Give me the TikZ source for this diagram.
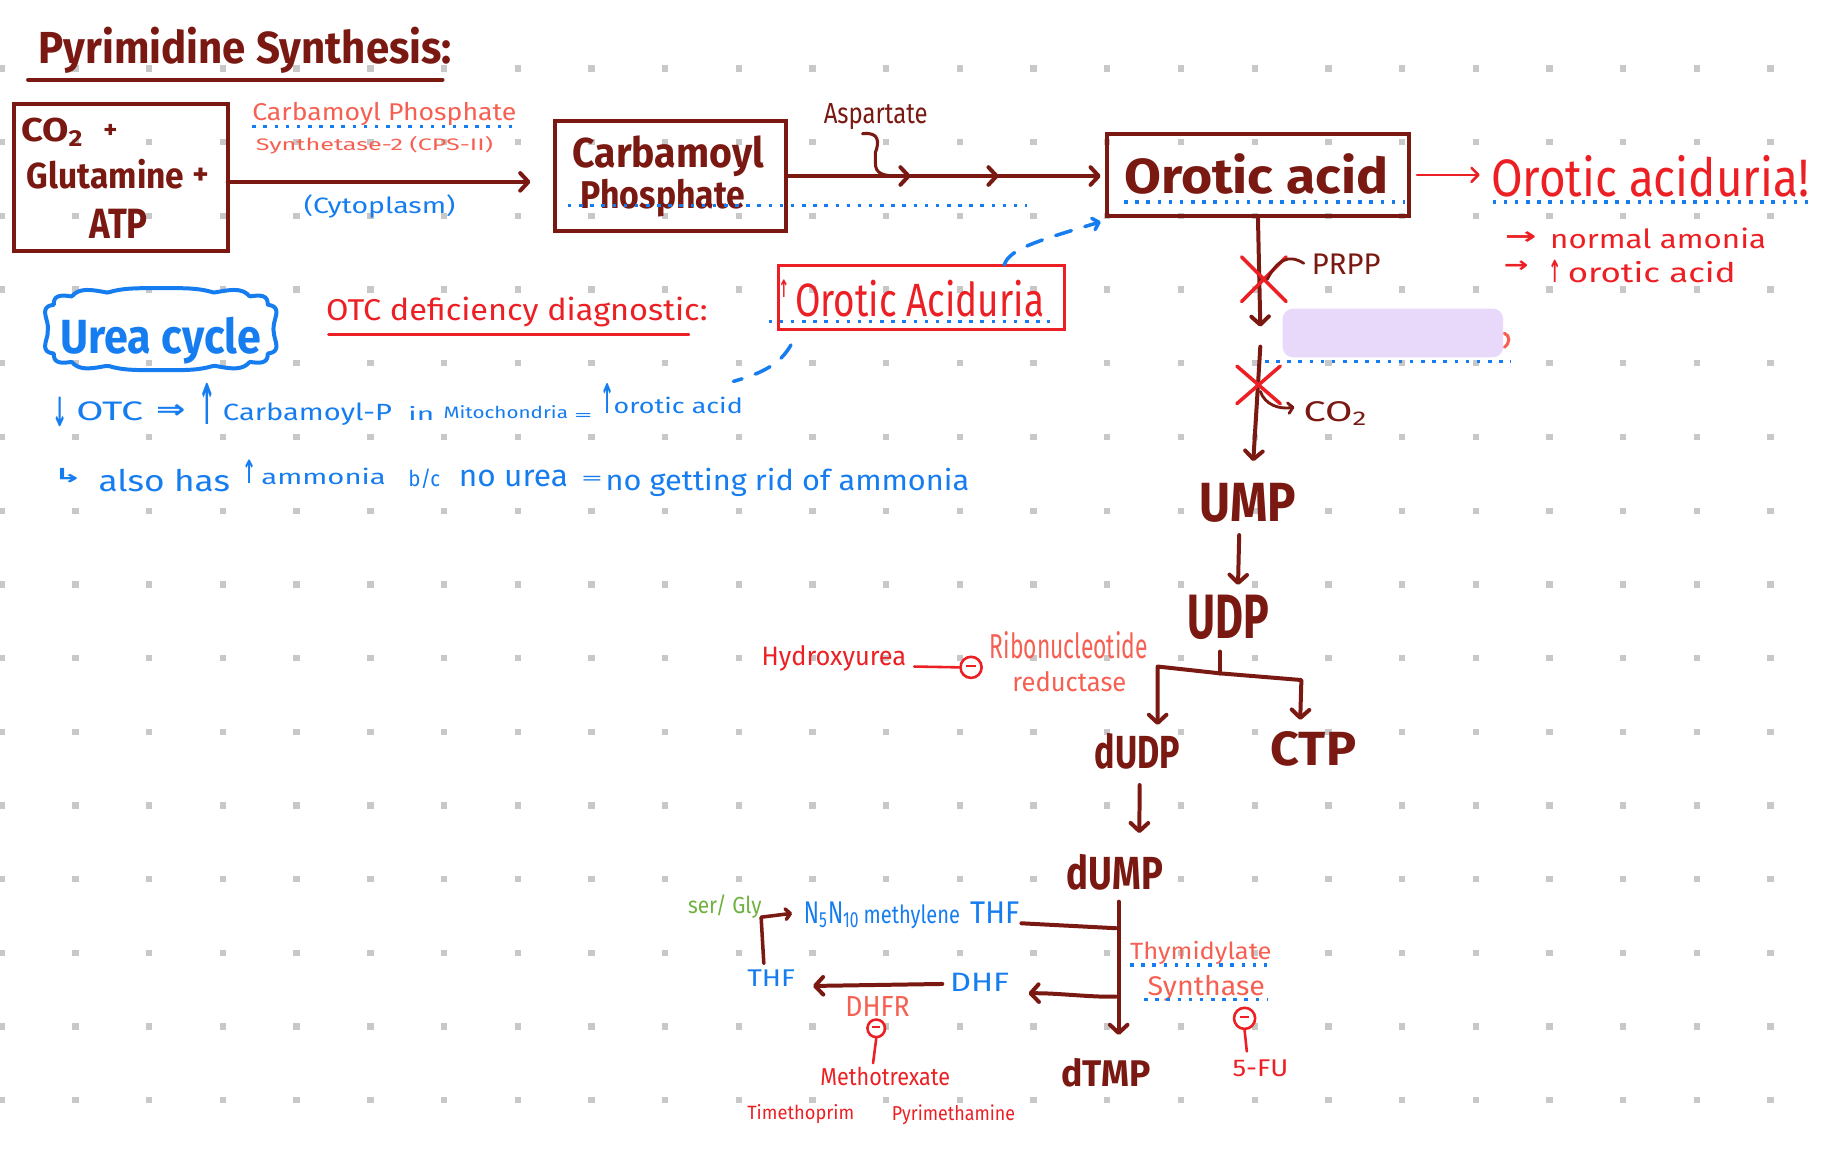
\documentclass[tikz,border=0pt]{standalone}
\usepackage{fontspec}
\setmainfont{Fira Sans}
\newfontfamily\symf{DejaVu Sans}
\usepackage{graphicx}
\usetikzlibrary{arrows.meta}
\definecolor{dred}{RGB}{122,24,18}
\definecolor{hred}{RGB}{236,32,36}
\definecolor{coral}{RGB}{246,96,82}
\definecolor{hblue}{RGB}{22,125,240}
\definecolor{hgreen}{RGB}{112,178,64}
\definecolor{lav}{RGB}{232,216,250}
\definecolor{dotg}{RGB}{200,200,200}
\newcommand\tx[3]{\resizebox{#1pt}{#2pt}{#3}}
\begin{document}
\begin{tikzpicture}[x=1pt,y=-1pt,
  lbl/.style={inner sep=0pt, outer sep=0pt, anchor=base west},
  sy/.style={inner sep=0pt, outer sep=0pt, anchor=center, font=\symf\bfseries},
  box/.style={draw=dred, line width=3.4pt, inner sep=0pt},
  flow/.style={draw=dred, line width=3.4pt, line cap=round, line join=round},
  tipd/.style={-{Straight Barb[length=7pt,width=15pt,round]}},
  tips/.style={-{Straight Barb[length=4pt,width=9pt,round]}},
  thinr/.style={draw=hred, line width=2.2pt, line cap=round},
  dots/.style={draw=hblue, line width=3pt, dash pattern=on 3pt off 6.5pt},
  inh/.style={circle, draw=hred, line width=2.2pt, inner sep=0pt},
  ]
\fill[white] (0,0) rectangle (1568,995.3);
\useasboundingbox (0,0) rectangle (1568,995.3);
% grid dots
\foreach \i in {0,...,24}{\foreach \j in {0,...,14}{
  \fill[dotg] ({1.6+62.8*\i-2.7},{58.4+62.8*\j-2.7}) rectangle ++(5.4,5.4);}}
% title
\node[lbl,text=dred] (title) at (33,54) {\bfseries\tx{352}{31}{Pyrimidine Synthesis:}};
\draw[dred, line width=3.6pt, line cap=round] (24,68) -- (377,68);
% CO2 box
\node[box, minimum width=182pt, minimum height=125pt] (co2box) at (103,151.5) {};
\node[lbl,text=dred] (co2) at (18,121) {\bfseries\tx{54}{20}{CO\textsubscript{2}}};
\node[lbl,text=dred] (plus1) at (88,118) {\bfseries\tx{12}{12}{+}};
\node[lbl,text=dred] (glut) at (23,161) {\bfseries\tx{134}{25}{Glutamine}};
\node[lbl,text=dred] (plus2) at (164,157) {\bfseries\tx{14}{14}{+}};
\node[lbl,text=dred] (atp) at (76,203) {\bfseries\tx{50}{25}{ATP}};
\coordinate (a1s) at (194,155);
\coordinate (a1e) at (452,155);
\draw[flow,tipd] (a1s) -- (a1e);
\node[lbl,text=coral] (cpslbl) at (215,102.5) {\tx{225}{15.5}{Carbamoyl Phosphate}};
\draw[dots] (215,108) -- (440,108);
\node[lbl,text=coral] (cps2) at (218,128) {\tx{202}{12}{Synthetase-2 (CPS-II)}};
\node[lbl,text=hblue] (cyto) at (259,182) {\tx{129}{16}{(Cytoplasm)}};
% Carbamoyl phosphate box
\node[box, minimum width=197pt, minimum height=94pt] (cpbox) at (571.5,150) {};
\node[lbl,text=dred] (cp1) at (488,143) {\bfseries\tx{163}{27}{Carbamoyl}};
\node[lbl,text=dred] (cp2) at (495,177.5) {\bfseries\tx{140}{25}{Phosphate}};
\draw[dots] (484,175) -- (875,175);
\coordinate (m1) at (776,150);
\coordinate (m2) at (851,150);
\coordinate (m3) at (938,150);
\draw[flow,tipd] (cpbox.east) -- (m1);
\draw[flow,tipd] (m1) -- (m2);
\draw[flow,tipd] (m2) -- (m3);
\node[lbl,text=dred] (asp) at (702,105) {\tx{88.5}{17}{Aspartate}};
\coordinate (aspq) at (735,114);
\coordinate (aspj) at (766,150);
\draw[flow, line width=2.6pt] (aspq) .. controls (750,112) and (749,122) .. (746,130) -- (746,139) .. controls (746,148) and (752,150) .. (aspj);
% Orotic acid box
\node[box, minimum width=258pt, minimum height=70pt] (orbox) at (1072,149) {};
\node[lbl,text=dred] (ortxt) at (958,164.7) {\bfseries\tx{225}{34}{Orotic acid}};
\draw[dots] (958,172) -- (1197,172);
\coordinate (ra1) at (1207.5,149);
\coordinate (ra2) at (1261,149);
\draw[thinr, -{Straight Barb[length=6pt,width=12pt,round]}] (ra1) -- (ra2);
\node[lbl,text=hred] (oaci) at (1270.6,167.6) {\tx{271}{35}{Orotic aciduria!}};
\draw[dots] (1272,172) -- (1543,172);
\node[sy,text=hred] (ar1) at (1296,203) {\tx{27}{11}{→}};
\node[lbl,text=hred] (norm) at (1321,211.5) {\tx{184}{17.5}{normal amonia}};
\node[sy,text=hred] (ar2) at (1292,227) {\tx{21}{10}{→}};
\node[sy,text=hred] (up1) at (1325,231) {\tx{11}{19}{↑}};
\node[lbl,text=hred] (oa2) at (1336,241) {\tx{143}{18}{orotic acid}};
% down from orotic acid
\coordinate (d1e) at (1074,278.4);
\draw[flow,tipd] (orbox.south) -- (d1e);
\draw[hred, line width=3pt, line cap=round] (1058,219) -- (1096,257) (1058,257) -- (1096,219);
\node[lbl,text=dred] (prpp) at (1118,233.5) {\tx{58.5}{17.5}{PRPP}};
\coordinate (prh) at (1111,224.4);
\coordinate (prj) at (1080,238);
\draw[flow, line width=2.4pt] (prh) .. controls (1098,216) and (1088,222) .. (prj);
\node[fill=lav, rounded corners=9pt, minimum width=188pt, minimum height=41.5pt, inner sep=0pt] (hide) at (1187,283.75) {};
\draw[coral, line width=2.6pt, line cap=round] (1282,284) .. controls (1287,286) and (1287,292) .. (1282,296);
\draw[dots] (1078,308) -- (1288,308);
\coordinate (d2s) at (1074,295.4);
\coordinate (d2e) at (1068,393);
\draw[flow,tipd] (d2s) -- (d2e);
\draw[hred, line width=3pt, line cap=round] (1054,312) -- (1091,344) (1054,344) -- (1091,312);
\coordinate (coh) at (1074,333.5);
\coordinate (coe) at (1103,347);
\draw[flow, line width=2.4pt, tips] (coh) .. controls (1078,345) and (1090,349) .. (coe);
\node[lbl,text=dred] (co2b) at (1111,359) {\tx{55}{17}{CO\textsubscript{2}}};
% UMP / UDP
\node[lbl,text=dred] (ump) at (1022,444.5) {\bfseries\tx{82.5}{32.6}{UMP}};
\coordinate (u1) at (1056,456);
\coordinate (u2) at (1055,498.5);
\draw[flow,tipd] (u1) -- (u2);
\node[lbl,text=dred] (udp) at (1012,544) {\bfseries\tx{69.5}{37}{UDP}};
\coordinate (br0) at (1039.6,555.3);
\coordinate (brm) at (1039.6,573.8);
\coordinate (brl) at (986.5,568);
\coordinate (brr) at (1109,579.5);
\coordinate (brle) at (986.5,617.8);
\coordinate (brre) at (1108,613.5);
\draw[flow] (br0) -- (brm);
\draw[flow,tipd] (brm) -- (brl) -- (brle);
\draw[flow,tipd] (brm) -- (brr) -- (brre);
\node[lbl,text=dred] (dudp) at (933,654.7) {\bfseries\tx{72.6}{30}{dUDP}};
\node[lbl,text=dred] (ctp) at (1082.7,652) {\bfseries\tx{73}{29}{CTP}};
\coordinate (du1) at (971.2,669);
\coordinate (du2) at (970.9,710);
\draw[flow,tipd] (du1) -- (du2);
\node[lbl,text=dred] (dump) at (909,758.4) {\bfseries\tx{82}{30}{dUMP}};
% ribonucleotide reductase
\node[lbl,text=coral] (rr1) at (843.6,561) {\tx{134.4}{23}{Ribonucleotide}};
\node[lbl,text=coral] (rr2) at (862.8,589.4) {\tx{97}{17}{reductase}};
\node[lbl,text=hred] (hu) at (649,566.7) {\tx{123.3}{17}{Hydroxyurea}};
\node[inh, minimum size=18pt] (inh1) at (827.5,568.7) {};
\draw[hred, line width=2.2pt] ([xshift=-4pt,yshift=1pt]inh1.center) -- ([xshift=4pt,yshift=1pt]inh1.center);
\coordinate (hue) at (779,568);
\draw[thinr] (hue) -- (inh1.west);
% dUMP -> dTMP
\coordinate (v0) at (953.3,768.4);
\coordinate (v1) at (953.3,882);
\draw[flow,tipd] (v0) -- (v1);
\coordinate (nj) at (870.4,786.8);
\coordinate (nv) at (951,791);
\draw[flow] (nj) -- (nv);
\coordinate (dv) at (951,849.3);
\coordinate (de) at (876.5,846.5);
\draw[flow,tipd] (dv) .. controls (930,850) and (900,846) .. (de);
\node[lbl,text=hblue] (n5) at (685,786.8) {\tx{47.7}{18.4}{N\textsubscript{5}N\textsubscript{10}}};
\node[lbl,text=hblue] (meth) at (736,786.8) {\tx{82}{16}{methylene}};
\node[lbl,text=hblue] (thf1) at (826.8,786.8) {\tx{41.8}{18.4}{THF}};
\node[lbl,text=hgreen] (sg) at (586.3,778.3) {\tx{62.7}{16}{ser/ Gly}};
\coordinate (e0) at (650.9,821);
\coordinate (e1) at (648.6,781.6);
\coordinate (e2) at (675,778.3);
\draw[flow, line width=3pt, tips] (e0) -- (e1) -- (e2);
\node[lbl,text=hblue] (thf2) at (636.8,840.8) {\tx{40.7}{14.2}{THF}};
\node[lbl,text=hblue] (dhf) at (809.6,845) {\tx{50.4}{15.6}{DHF}};
\coordinate (h1) at (803,838.5);
\coordinate (h2) at (692.8,840.2);
\draw[flow,tipd] (h1) -- (h2);
\node[lbl,text=coral] (dhfr) at (720.5,866.4) {\tx{54.8}{17}{DHFR}};
\node[inh, minimum size=15pt] (inh2) at (746.7,876.3) {};
\draw[hred, line width=2pt] ([xshift=-3.5pt,yshift=1pt]inh2.center) -- ([xshift=3.5pt,yshift=1pt]inh2.center);
\coordinate (mt) at (744,906);
\draw[thinr] (inh2.south) -- (mt);
\node[lbl,text=hred] (mtx) at (699,924.6) {\tx{110.6}{15.6}{Methotrexate}};
\node[lbl,text=hred] (tmp) at (636.8,954.4) {\tx{91.2}{12.8}{Timethoprim}};
\node[lbl,text=hred] (pyr) at (760,955) {\tx{105}{13.4}{Pyrimethamine}};
\node[lbl,text=coral] (ts1) at (963,818) {\tx{120.5}{15.6}{Thymidylate}};
\draw[dots] (963,822.3) -- (1085,822.3);
\node[lbl,text=coral] (ts2) at (978,848) {\tx{100}{17.2}{Synthase}};
\draw[dots] (975,851.6) -- (1080,851.6);
\node[inh, minimum size=18pt] (inh3) at (1060.6,867.8) {};
\draw[hred, line width=2.2pt] ([xshift=-4pt,yshift=1pt]inh3.center) -- ([xshift=4pt,yshift=1pt]inh3.center);
\coordinate (fl) at (1062.5,896);
\draw[thinr] (inh3.south) -- (fl);
\node[lbl,text=hred] (fu) at (1050.4,917.5) {\tx{47.5}{14.2}{5-FU}};
\node[lbl,text=dred] (dtmp) at (904.6,926) {\bfseries\tx{76}{24}{dTMP}};
% Urea cycle cloud
\draw[hblue, line width=3.4pt, line join=round] plot[variable=\t, domain=0:359, samples=240]
  ({137+(96+3.5*abs(sin(7*\t)))*cos(\t)/sqrt(abs(cos(\t))+0.0001)},
   {280.5+(31.5+3.5*abs(sin(7*\t)))*sin(\t)/sqrt(abs(sin(\t))+0.0001)}) -- cycle;
\node[lbl,text=hblue] (urea) at (51.6,301) {\bfseries\tx{171}{31}{Urea cycle}};
\node[lbl,text=hred] (otc) at (278,272.7) {\tx{325}{20}{OTC deficiency diagnostic:}};
\draw[hred, line width=2.4pt, line cap=round] (280,285) -- (587,285);
\node[draw=hred, line width=2.2pt, minimum width=243.5pt, minimum height=54.2pt, inner sep=0pt] (oabox) at (785.25,253.5) {};
\node[sy,text=hred] (up2) at (668,246) {\tx{9}{15}{↑}};
\node[lbl,text=hred] (oatxt) at (677.7,270) {\tx{212}{31}{Orotic Aciduria}};
\draw[dots] (655,274) -- (895,274);
\coordinate (bd1) at (855.8,225.8);
\coordinate (bd2) at (938,189);
\draw[hblue, line width=3pt, dash pattern=on 14pt off 12pt, line cap=round, -{Straight Barb[length=5pt,width=10pt,round]}] (bd1) .. controls (860,212) and (885,205) .. (bd2);
\coordinate (bd3) at (674,294);
\coordinate (bd4) at (625,325);
\draw[hblue, line width=3pt, dash pattern=on 14pt off 12pt, line cap=round] (bd3) .. controls (665,310) and (650,318) .. (bd4);
% line 3
\node[sy,text=hblue] (dn) at (51,351) {\tx{13}{25}{↓}};
\node[lbl,text=hblue] (otc2) at (65,358) {\tx{57}{16}{OTC}};
\node[sy,text=hblue] (impl) at (145.5,351) {\tx{25}{12}{⇒}};
\node[sy,text=hblue] (up3) at (176.5,344.5) {\tx{15}{35}{↑}};
\node[lbl,text=hblue] (cbp) at (190,358) {\tx{144}{15}{Carbamoyl-P}};
\node[lbl,text=hblue] (in) at (348,358) {\tx{22}{12}{in}};
\node[lbl,text=hblue] (mito) at (378,357) {\tx{106}{11}{Mitochondria}};
\node[lbl,text=hblue] (eq1) at (489,358) {\tx{16}{6}{=}};
\node[sy,text=hblue] (up4) at (517.6,339.5) {\tx{12}{25.5}{↑}};
\node[lbl,text=hblue] (oa3) at (523,352.2) {\tx{110}{14}{orotic acid}};
% line 4
\node[sy,text=hblue] (hook) at (58,405) {\tx{25}{12}{↳}};
\node[lbl,text=hblue] (also) at (84,419) {\tx{112}{19}{also has}};
\node[sy,text=hblue] (up5) at (213,402) {\tx{12}{20}{↑}};
\node[lbl,text=hblue] (amm) at (222.8,413.3) {\tx{106}{14}{ammonia}};
\node[lbl,text=hblue] (bc) at (348,414.7) {\tx{27}{15}{b/c}};
\node[lbl,text=hblue] (nou) at (391,414.7) {\tx{93}{14}{no urea}};
\node[lbl,text=hblue] (eq2) at (495,413) {\tx{19}{7}{=}};
\node[lbl,text=hblue] (nog) at (516,417.6) {\tx{310}{19}{no getting rid of ammonia}};
\end{tikzpicture}
\end{document}
